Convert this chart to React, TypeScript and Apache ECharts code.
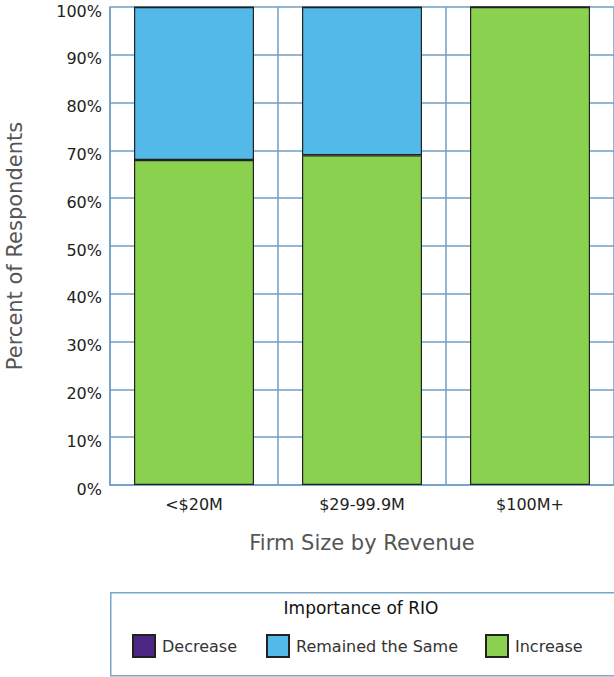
import React, { useEffect, useRef } from "react";
import * as echarts from "echarts";

// Firm-size buckets along the x axis
const categories = ["<$20M", "$29-99.9M", "$100M+"];

// Share of respondents (percent) per answer, stacked bottom-to-top
const increaseValues = [68, 69, 100];
const remainedValues = [32, 31, 0];
const decreaseValues = [0, 0, 0];

const yTicks = { min: 0, max: 100, interval: 10 };

const FONT = "'DejaVu Sans', 'Noto Sans', sans-serif";
const GRID_COLOR = "#6f9fc4";
const EDGE = "#222222";

export default function App() {
  const ref = useRef<HTMLDivElement>(null);

  useEffect(() => {
    if (!ref.current) return;
    const chart = echarts.init(ref.current, undefined, { renderer: "svg" });

    const legendItem = (name: string, left: number) => ({
      data: [name],
      left,
      top: 629,
      orient: "horizontal",
      icon: "rect",
      itemWidth: 22,
      itemHeight: 22,
      selectedMode: false,
      textStyle: { fontFamily: FONT, fontSize: 16, color: "#333", padding: [0, 0, 0, 2] },
    });

    chart.setOption({
      animation: false,
      textStyle: { fontFamily: FONT },
      grid: { left: 110, right: 0, top: 7, bottom: 192, outerBoundsMode: "none", containLabel: false },
      xAxis: {
        type: "category",
        data: categories,
        axisLine: { show: true, lineStyle: { color: GRID_COLOR, width: 1.5 } },
        axisTick: { show: false },
        splitLine: { show: true, lineStyle: { color: GRID_COLOR, width: 1.5 } },
        axisLabel: { margin: 11, fontSize: 16, color: "#222", fontFamily: FONT },
        name: "Firm Size by Revenue",
        nameLocation: "middle",
        nameGap: 47,
        nameTextStyle: { fontSize: 21, color: "#555", fontFamily: FONT },
      },
      yAxis: {
        type: "value",
        min: yTicks.min,
        max: yTicks.max,
        interval: yTicks.interval,
        axisLine: { show: true, lineStyle: { color: GRID_COLOR, width: 1.5 } },
        axisTick: { show: false },
        splitLine: { show: true, lineStyle: { color: GRID_COLOR, width: 1.5 } },
        axisLabel: {
          formatter: "{value}%",
          margin: 8,
          fontSize: 16,
          color: "#222",
          fontFamily: FONT,
          verticalAlign: "top",
          lineHeight: 8,
        },
        name: "Percent of Respondents",
        nameLocation: "middle",
        nameGap: 85,
        nameTextStyle: { fontSize: 21, color: "#555", fontFamily: FONT },
      },
      legend: [
        legendItem("Decrease", 127),
        legendItem("Remained the Same", 261),
        legendItem("Increase", 480),
      ],
      graphic: [
        {
          type: "rect",
          shape: { x: 110.75, y: 592.75, width: 530, height: 83 },
          style: { fill: "none", stroke: "#7aa6c8", lineWidth: 1.5 },
          z: 0,
        },
        {
          type: "text",
          x: 361,
          y: 608,
          style: {
            text: "Importance of RIO",
            fontFamily: FONT,
            fontSize: 17,
            fill: "#111",
            align: "center",
            verticalAlign: "middle",
          },
        },
      ],
      series: [
        {
          name: "Increase",
          type: "bar",
          stack: "total",
          barWidth: 120,
          data: increaseValues,
          itemStyle: { color: "#8bd150", borderColor: EDGE, borderWidth: 1.2 },
        },
        {
          name: "Remained the Same",
          type: "bar",
          stack: "total",
          barWidth: 120,
          data: remainedValues,
          itemStyle: { color: "#52b9e9", borderColor: EDGE, borderWidth: 1.2 },
        },
        {
          name: "Decrease",
          type: "bar",
          stack: "total",
          barWidth: 120,
          data: decreaseValues,
          itemStyle: { color: "#4b2683", borderColor: EDGE, borderWidth: 1.2 },
        },
      ],
    });

    return () => chart.dispose();
  }, []);

  return (
    <div
      ref={ref}
      style={{ position: "fixed", left: 0, top: 0, width: 614, height: 677, background: "#fff" }}
    />
  );
}
